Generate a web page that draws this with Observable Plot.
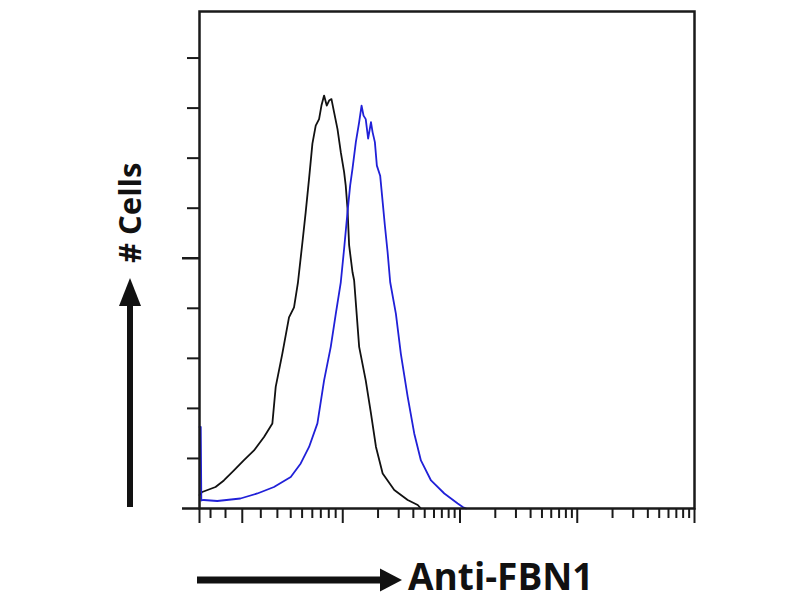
<!DOCTYPE html>
<html>
<head>
<meta charset="utf-8">
<script src="https://cdn.jsdelivr.net/npm/d3@7"></script>
<script src="https://cdn.jsdelivr.net/npm/@observablehq/plot@0.6"></script>
<style>
  html, body { margin: 0; padding: 0; background: #fff; }
  #chart svg { display: block; }
</style>
</head>
<body>
<div id="chart"></div>
<script>
// Axis titles
const xTitle = "Anti-FBN1";
const yTitle = "# Cells";

// Tick values (no labels shown)
const xTicksMinor = [0.745, 1.0, 2, 2.77, 3.6, 4.5, 5.5, 6.5, 7.6, 8.7,
  20, 30, 40, 50, 60, 70, 80, 90,
  200, 300, 400, 500, 600, 700, 800, 900,
  2000, 3000, 4000, 5000, 6000, 7000, 8000, 9000];
const xTicksMajor = [0.6, 1.39, 10, 100, 1000, 10000];
const yTicksMinor = [10, 20, 30, 40, 60, 70, 80, 90];
const yTicksMajor = [0, 50];

// Control (black) histogram
const controlX = [0.6, 0.633, 0.822, 0.968, 1.18, 1.43, 1.75, 2.13, 2.51, 2.68, 3.05, 3.48, 3.84, 4.15, 4.53, 4.83, 5.16, 5.51, 5.88, 6.28, 6.58, 6.93, 7.30, 7.65, 8.01, 8.43, 9.02, 9.62, 10.27, 10.6, 10.98, 11.33, 12.11, 12.5, 13.8, 15.7, 17.4, 19.2, 21.9, 27.5, 35.8, 43.6, 46.4];
const controlCount = [2.7, 3.3, 4.3, 5.6, 7.6, 9.6, 11.6, 14.3, 17.0, 24.3, 30.9, 38.2, 40.2, 45.2, 53.2, 59.2, 65.9, 72.9, 76.5, 77.8, 80.5, 82.5, 80.5, 81.5, 81.8, 79.2, 75.8, 71.2, 67.2, 64.5, 59.9, 52.6, 47.2, 45.6, 32.3, 25.6, 19.0, 12.3, 7.0, 3.7, 1.7, 0.7, 0];

// Anti-FBN1 (blue) histogram
const fbn1X = [0.6, 0.615, 0.622, 0.653, 0.85, 1.34, 1.87, 2.59, 3.60, 4.38, 5.16, 6.08, 6.93, 7.90, 8.72, 9.62, 10.27, 10.98, 11.56, 12.11, 12.93, 13.8, 14.47, 15.04, 15.7, 16.46, 17.4, 17.96, 18.79, 19.54, 20.85, 21.9, 22.88, 24.13, 25.39, 28.4, 31.3, 35.8, 40.7, 46.4, 56.6, 73.5, 95.6, 105.5, 112.6];
const fbn1Count = [16.3, 16.3, 1.6, 1.7, 1.5, 2.0, 3.0, 4.3, 6.3, 9.0, 12.3, 17.0, 25.6, 32.3, 38.9, 45.2, 51.9, 59.2, 64.5, 67.9, 73.2, 77.2, 80.5, 78.5, 77.8, 73.9, 77.2, 75.2, 73.2, 68.5, 66.5, 61.2, 56.5, 51.2, 45.2, 38.9, 30.9, 22.3, 15.0, 9.6, 5.6, 3.0, 1.0, 0.3, 0];

const control = controlX.map((x, i) => ({x, y: controlCount[i]}));
const fbn1 = fbn1X.map((x, i) => ({x, y: fbn1Count[i]}));

const W = 800, H = 600;
const plot = Plot.plot({
  width: W, height: H,
  marginLeft: 199, marginRight: 106, marginTop: 11, marginBottom: 92,
  style: {background: "#fff", overflow: "visible"},
  x: {type: "log", domain: [0.6, 10000]},
  y: {domain: [0, 99.3]},
  marks: [
    Plot.line(control, {x: "x", y: "y", stroke: "#111", strokeWidth: 1.8}),
    Plot.line(fbn1, {x: "x", y: "y", stroke: "#2020d8", strokeWidth: 1.8}),
    Plot.frame({stroke: "#1a1a1a", strokeWidth: 2.5}),
    Plot.axisX({ticks: xTicksMinor, tickSize: 10, tickFormat: () => "", label: null, stroke: "#1a1a1a", strokeWidth: 2}),
    Plot.axisX({ticks: xTicksMajor, tickSize: 15, tickFormat: () => "", label: null, stroke: "#1a1a1a", strokeWidth: 2}),
    Plot.axisY({ticks: yTicksMinor, tickSize: 12, tickFormat: () => "", label: null, stroke: "#1a1a1a", strokeWidth: 2}),
    Plot.axisY({ticks: yTicksMajor, tickSize: 17, tickFormat: () => "", label: null, stroke: "#1a1a1a", strokeWidth: 2.5})
  ]
});
document.getElementById("chart").appendChild(plot);

// Decorative axis titles with arrows
const svg = d3.select(plot);
const g = svg.append("g").attr("fill", "#111").attr("stroke", "none").attr("text-anchor", "start");
// vertical arrow
g.append("rect").attr("x", 127).attr("y", 300).attr("width", 6).attr("height", 207);
g.append("path").attr("d", "M119,306 L130,278 L141,306 Z");
g.append("text")
  .attr("text-anchor", "start")
  .attr("transform", "translate(141,263) rotate(-90)")
  .attr("font-family", "'Open Sans', sans-serif")
  .attr("font-weight", "bold")
  .attr("font-size", 31)
  .text(yTitle);
// horizontal arrow
g.append("rect").attr("x", 197).attr("y", 576.5).attr("width", 186).attr("height", 7);
g.append("path").attr("d", "M380,568.5 L402,580 L380,591.5 Z");
g.append("text")
  .attr("text-anchor", "start")
  .attr("x", 408)
  .attr("y", 590)
  .attr("font-family", "'Open Sans', sans-serif")
  .attr("font-weight", "bold")
  .attr("font-size", 37)
  .text(xTitle);
</script>
</body>
</html>
